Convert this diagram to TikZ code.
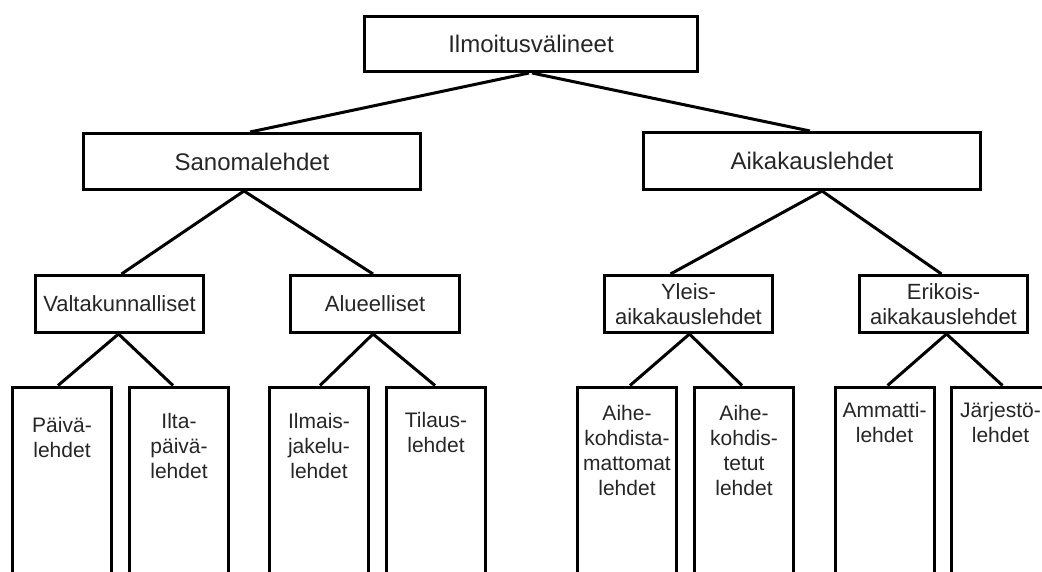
\documentclass[tikz,border=0pt]{standalone}
\usepackage{fontspec}
\setmainfont{Liberation Sans}
\begin{document}
\begin{tikzpicture}[x=1pt,y=-1pt,
  box/.style={draw=black, line width=3pt, fill=white, inner sep=0pt, align=center, text=black!85},
  lvlA/.style={box, font=\fontsize{24}{28}\selectfont},
  lvlB/.style={box, font=\fontsize{22}{25}\selectfont},
  leaf/.style={draw=black, line width=3pt, fill=white, minimum width=99pt, minimum height=230pt, anchor=north, inner sep=0pt},
  leaftext/.style={anchor=north, inner sep=0pt, align=center, text=black!85, font=\fontsize{21}{25}\selectfont},
  conn/.style={line width=3pt}]
\clip (0,0) rectangle (1042,572);
\fill[white] (0,0) rectangle (1042,572);
% level 0
\node[lvlA, minimum width=333pt, minimum height=55pt] (top) at (531,44) {Ilmoitusvälineet};
% level 1
\node[lvlA, minimum width=337pt, minimum height=56pt] (san) at (252,161.5) {Sanomalehdet};
\node[lvlA, minimum width=337pt, minimum height=57pt] (aik) at (812,161) {Aikakauslehdet};
% level 2
\node[lvlB, minimum width=168pt, minimum height=57pt] (val) at (119.5,304) {Valtakunnalliset};
\node[lvlB, minimum width=169pt, minimum height=57pt] (alu) at (375,304) {Alueelliset};
\node[lvlB, minimum width=168pt, minimum height=57pt] (yle) at (688.5,304) {Yleis-\\aikakauslehdet};
\node[lvlB, minimum width=168pt, minimum height=57pt] (eri) at (943.5,304) {Erikois-\\aikakauslehdet};
% leaves
\node[leaf] (l1) at (62,385.5) {};
\node[leaf] (l2) at (179,385.5) {};
\node[leaf] (l3) at (319,385.5) {};
\node[leaf] (l4) at (436,385.5) {};
\node[leaf] (l5) at (627,385.5) {};
\node[leaf] (l6) at (744,385.5) {};
\node[leaf] (l7) at (884.5,385.5) {};
\node[leaf] (l8) at (1000.5,385.5) {};
\node[leaftext] (t1) at (62,417) {Päivä-\\lehdet};
\node[leaftext] (t2) at (179,413) {Ilta-\\päivä-\\lehdet};
\node[leaftext] (t3) at (319,413) {Ilmais-\\jakelu-\\lehdet};
\node[leaftext] (t4) at (436,412) {Tilaus-\\lehdet};
\node[leaftext] (t5) at (627,405) {Aihe-\\kohdista-\\mattomat\\lehdet};
\node[leaftext] (t6) at (744,405) {Aihe-\\kohdis-\\tetut\\lehdet};
\node[leaftext] (t7) at (884.5,402) {Ammatti-\\lehdet};
\node[leaftext] (t8) at (1000.5,402) {Järjestö-\\lehdet};
% connectors
\draw[conn] ([xshift=-2pt]top.south) -- ([xshift=-2pt]san.north);
\draw[conn] ([xshift=1pt]top.south) -- ([xshift=-2pt]aik.north);
\draw[conn] ([xshift=-8pt]san.south) -- ([xshift=2pt]val.north);
\draw[conn] ([xshift=-8pt]san.south) -- ([xshift=-2pt]alu.north);
\draw[conn] ([xshift=10pt]aik.south) -- ([xshift=-18pt]yle.north);
\draw[conn] ([xshift=10pt]aik.south) -- ([xshift=-2pt]eri.north);
\draw[conn] ([xshift=-1pt]val.south) -- ([xshift=-4pt]l1.north);
\draw[conn] ([xshift=-1pt]val.south) -- ([xshift=-6pt]l2.north);
\draw[conn] ([xshift=-2pt]alu.south) -- ([xshift=1pt]l3.north);
\draw[conn] ([xshift=-2pt]alu.south) -- ([xshift=-1pt]l4.north);
\draw[conn] ([xshift=1pt]yle.south) -- ([xshift=3pt]l5.north);
\draw[conn] ([xshift=1pt]yle.south) -- ([xshift=-2pt]l6.north);
\draw[conn] ([xshift=3pt]eri.south) -- ([xshift=3pt]l7.north);
\draw[conn] ([xshift=3pt]eri.south) -- ([xshift=2pt]l8.north);
\end{tikzpicture}
\end{document}
